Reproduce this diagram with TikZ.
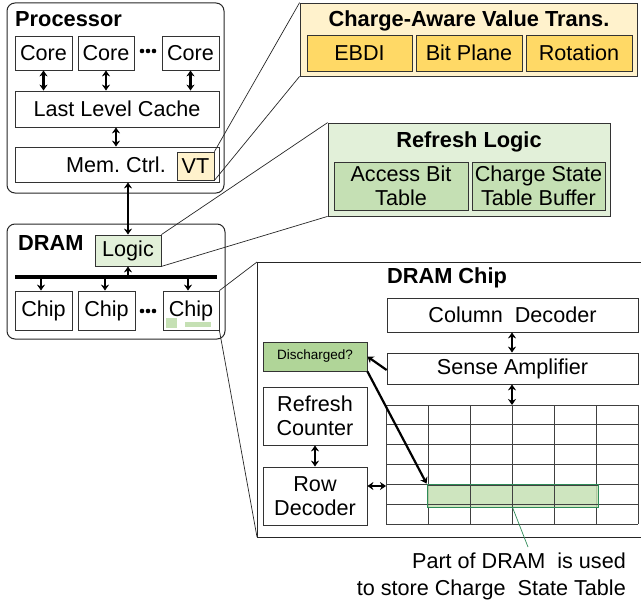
\documentclass[tikz,border=0pt]{standalone}
\usepackage{fontspec}
\setmainfont{Liberation Sans}
\usetikzlibrary{arrows.meta}
\definecolor{ylight}{HTML}{FFF2CC}
\definecolor{ydark}{HTML}{FFD966}
\definecolor{glight}{HTML}{E2F0D9}
\definecolor{gmid}{HTML}{C5E0B4}
\definecolor{gdis}{HTML}{B0D598}
\definecolor{gedge}{HTML}{2E8B57}
\tikzset{
  box/.style={draw=black!80, line width=0.8pt, inner sep=0pt, align=center, font=\fontsize{21.6}{24.5}\selectfont},
  cont/.style={draw=black!85, line width=1pt, rounded corners=8pt, inner sep=0pt},
  ttl/.style={font=\fontsize{21.8}{24}\selectfont\bfseries, inner sep=0pt},
  dbl/.style={line width=2.2pt, {Stealth[length=6pt,width=8pt]}-{Stealth[length=6pt,width=8pt]}},
  sgl/.style={line width=2.2pt, -{Stealth[length=6pt,width=8pt]}},
  zoomln/.style={line width=0.7pt, draw=black!85},
  gridln/.style={line width=0.9pt, draw=black!75},
  dotc/.style={fill=black}
}
\begin{document}
\begin{tikzpicture}[x=1pt,y=-1pt]
\useasboundingbox (0,0) rectangle (641,602);
% ---------------- Processor ----------------
\node[cont, minimum width=217pt, minimum height=190pt] (proc) at (115.5,98) {};
\node[ttl, anchor=west] (proct) at (15,19) {Processor};
\node[box, minimum width=57pt, minimum height=34pt] (core1) at (43.5,53) {Core};
\node[box, minimum width=56pt, minimum height=34pt] (core2) at (106,53) {Core};
\node[box, minimum width=57pt, minimum height=34pt] (core3) at (190.5,53) {Core};
\foreach \x in {142,148,154} \fill[dotc] (\x,51) circle (2.3pt);
\node[box, minimum width=204pt, minimum height=36pt] (llc) at (117,109) {Last Level Cache};
\node[box, minimum width=204pt, minimum height=35pt] (mc) at (117,164.5) {};
\node[box, anchor=center, draw=none, fill=none] (mct) at (116,164.5) {Mem.\ Ctrl.};
\node[box, fill=ylight, minimum width=37pt, minimum height=28pt] (vt) at (195.5,166) {VT};
\foreach \c in {core1,core2,core3}
  \draw[dbl] (\c.south) -- (\c.south |- llc.north);
\draw[dbl] (llc.south -| 116,0) -- (mc.north -| 116,0);
% ---------------- DRAM ----------------
\node[cont, minimum width=218pt, minimum height=115pt] (dram) at (116,281.5) {};
\node[ttl, anchor=west] (dramt) at (18,243) {DRAM};
\node[box, fill=glight, minimum width=66pt, minimum height=31pt] (logic) at (128,250.5) {Logic};
\draw[dbl] (logic.north |- mc.south) -- (logic.north);
\coordinate (busl) at (15,277);
\coordinate (busr) at (217,277);
\draw[line width=4pt] (busl) -- (busr);
\node[box, minimum width=57pt, minimum height=39pt] (chip1) at (43.5,310.5) {Chip};
\node[box, minimum width=57pt, minimum height=39pt] (chip2) at (106.5,310.5) {Chip};
\node[box, minimum width=56pt, minimum height=39pt] (chip3) at (191,310.5) {Chip};
\foreach \x in {142,148,154} \fill[dotc] (\x,311) circle (2.3pt);
\fill[gmid] (166,318) rectangle (177,328);
\fill[gmid] (185,322) rectangle (211,327);
\draw[sgl] (logic.south |- busl) -- (logic.south);
\foreach \c/\x in {chip1/41,chip2/105,chip3/188}
  \draw[sgl] (\x,277) -- (\c.north -| \x,0);
% ---------------- Charge-Aware Value Trans. ----------------
\node[draw=black!80, line width=0.8pt, fill=ylight, minimum width=337pt, minimum height=73pt, inner sep=0pt] (cavt) at (468.5,39.5) {};
\node[ttl] (cavtt) at (469,21) {Charge-Aware Value Trans.};
\node[box, fill=ydark, minimum width=105pt, minimum height=36pt] (ebdi) at (359.5,53) {EBDI};
\node[box, fill=ydark, minimum width=106pt, minimum height=36pt] (bitp) at (469,53) {Bit Plane};
\node[box, fill=ydark, minimum width=106pt, minimum height=36pt] (rot) at (579,53) {Rotation};
\draw[zoomln] (vt.north east) -- (cavt.north west);
\draw[zoomln] (vt.south east) -- (cavt.south west);
% ---------------- Refresh Logic ----------------
\node[draw=black!80, line width=0.8pt, fill=glight, minimum width=282pt, minimum height=93pt, inner sep=0pt] (rl) at (469,169.5) {};
\node[ttl] (rlt) at (469,142) {Refresh Logic};
\node[box, fill=gmid, minimum width=134pt, minimum height=48pt] (abt) at (401,186) {Access Bit\\Table};
\node[box, fill=gmid, minimum width=133pt, minimum height=48pt] (cstb) at (538.5,186) {Charge State\\Table Buffer};
\draw[zoomln] (logic.north east) -- (rl.north west);
\draw[zoomln] (logic.south east) -- (rl.south west);
% ---------------- DRAM Chip ----------------
\coordinate (dcnw) at (257,262);
\coordinate (dcne) at (641,262);
\coordinate (dcsw) at (257,537);
\coordinate (dcse) at (641,537);
\draw[line width=1pt, draw=black!85] (dcne) -- (dcnw) -- (dcsw) -- (dcse);
\draw[zoomln] (chip3.north east) -- (dcnw);
\draw[zoomln] (chip3.south east) -- (dcsw);
\node[ttl] (dct) at (447,278) {DRAM Chip};
\node[box, minimum width=251pt, minimum height=34pt] (cd) at (512.5,315) {Column\ \ Decoder};
\node[box, minimum width=251pt, minimum height=31pt] (sa) at (512.5,368.5) {Sense Amplifier};
% grid
\foreach \i in {0,...,6} \draw[gridln] (386+42*\i,405) -- (386+42*\i,524);
\foreach \j in {0,...,6} \draw[gridln] (386,405+19.833*\j) -- (638,405+19.833*\j);
\coordinate (gridtop) at (512,405);
\coordinate (gridleft) at (386,486);
\node[fill=gmid, draw=gedge, line width=0.8pt, fill opacity=0.85, minimum width=171pt, minimum height=23pt, inner sep=0pt] (hl) at (512.5,495.5) {};
\foreach \i in {2,3,4} \draw[gridln] (386+42*\i,484) -- (386+42*\i,507);
\draw[gridln] (427,485) -- (598,485);
\draw[gridln] (427,504.8) -- (598,504.8);
\node[draw=gedge, line width=0.8pt, minimum width=171pt, minimum height=23pt, inner sep=0pt] at (512.5,495.5) {};
\draw[dbl] (cd.south -| 512,0) -- (sa.north -| 512,0);
\draw[dbl] (sa.south -| 512,0) -- (gridtop);
\node[box, fill=gdis, minimum width=104pt, minimum height=29pt, font=\fontsize{13.5}{16}\selectfont] (dis) at (315,356.5) {Discharged?};
\node[box, minimum width=104pt, minimum height=58pt] (rc) at (315,416) {Refresh\\Counter};
\node[box, minimum width=104pt, minimum height=58pt] (rd) at (315,496) {Row\\Decoder};
\draw[dbl] (rc.south) -- (rd.north);
\draw[dbl] (rd.east |- gridleft) -- (gridleft);
\draw[sgl] (sa.west |- 0,370) -- (dis.east);
\draw[sgl] (dis.south east) -- (hl.north west);
% label
\node[anchor=east, align=right, inner sep=0pt, font=\fontsize{21.6}{27}\selectfont] (lbl) at (626,576) {Part of DRAM\ \ is used\\to store Charge\ \ State Table};
\coordinate (lblpt) at (528,547);
\draw[gedge, line width=0.7pt] (hl.south) -- (lblpt);
\end{tikzpicture}
\end{document}
